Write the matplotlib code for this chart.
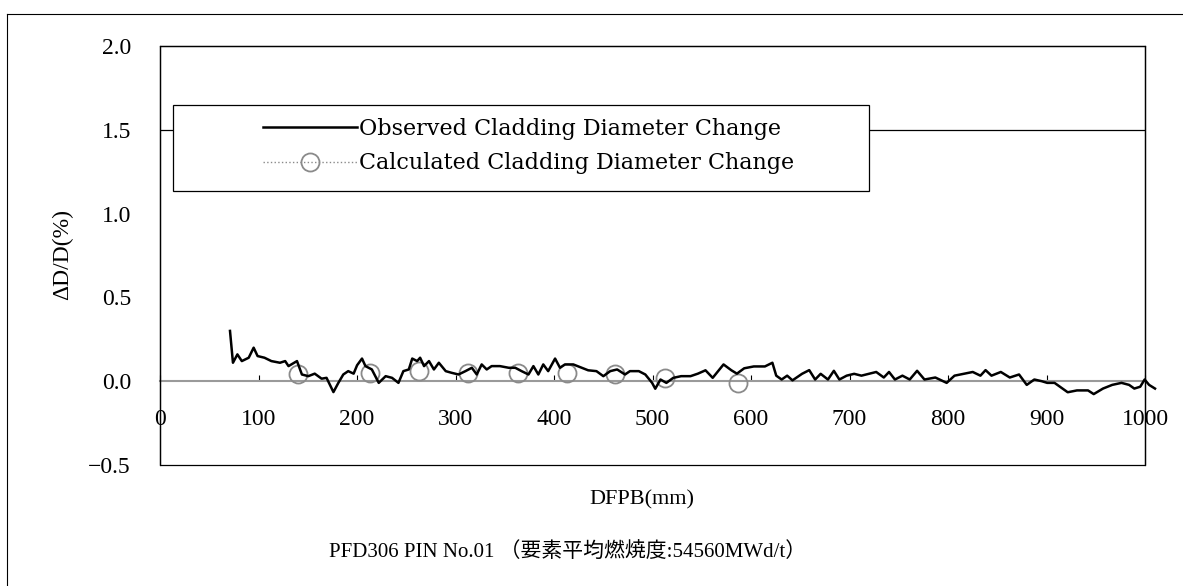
import numpy as np
import matplotlib
matplotlib.use("Agg")
import matplotlib.pyplot as plt
from matplotlib.lines import Line2D
from matplotlib.patches import Rectangle

plt.rcParams['font.family'] = ['Liberation Serif', 'Noto Sans CJK JP']

# observed cladding diameter change
obs_x = [71, 74, 78.5, 83, 90, 95, 99, 106, 113, 121.7, 127, 130.4, 139, 144, 150.5, 157,
         164, 169, 176, 181, 186, 191, 196.5, 200, 205, 208.5, 215, 222, 229, 235.5, 242,
         247, 252.5, 256, 261, 264, 268, 273, 278, 283, 290, 296, 303, 310, 316.5, 321.5,
         326.5, 331.6, 336.6, 345, 354, 360.6, 367, 374, 379, 384, 389, 394, 401, 406, 411,
         419.5, 428, 434.6, 443, 450, 457, 464, 472, 477, 486, 492.6, 499.5,
         502.7, 508, 514, 521, 529, 538.5, 546, 553.7, 561, 572, 580, 585.6, 593, 602.7,
         614, 621.6, 625.5, 631, 636.6, 642, 651.7, 659, 665, 670.6, 678, 684, 689.6, 697,
         704.6, 712, 719.6, 727, 734.7, 740, 746, 753.6, 761, 768.5, 776, 787, 798.5, 806.5,
         815.8, 825, 832.8, 838, 844, 853.5, 862.6, 872, 879.8, 887.5, 895, 900.6, 908,
         921.4, 930.8, 942, 947.8, 957.2, 966.6, 976, 983.7, 989, 995, 999.5, 1004, 1010]
obs_y = [0.30, 0.11, 0.16, 0.12, 0.14, 0.20, 0.15, 0.14, 0.12, 0.11, 0.12, 0.09, 0.12, 0.04,
         0.03, 0.045, 0.015, 0.02, -0.065, -0.01, 0.04, 0.06, 0.045, 0.095, 0.135, 0.09,
         0.07, -0.01, 0.03, 0.02, -0.01, 0.06, 0.07, 0.135, 0.12, 0.14, 0.09, 0.12, 0.07,
         0.11, 0.06, 0.05, 0.04, 0.06, 0.08, 0.04, 0.10, 0.07, 0.09, 0.09, 0.08, 0.08, 0.06,
         0.04, 0.09, 0.04, 0.10, 0.06, 0.135, 0.08, 0.10, 0.10, 0.08, 0.065, 0.06, 0.03,
         0.06, 0.07, 0.04, 0.06, 0.06, 0.04, -0.01,
         -0.045, 0.01, -0.01, 0.02, 0.03, 0.03, 0.045, 0.065, 0.02, 0.10, 0.065, 0.045,
         0.077, 0.088, 0.088, 0.11, 0.033, 0.01, 0.033, 0.005, 0.044, 0.066, 0.01, 0.044,
         0.01, 0.062, 0.01, 0.033, 0.044, 0.033, 0.044, 0.055, 0.022, 0.055, 0.01, 0.033,
         0.01, 0.062, 0.01, 0.022, -0.01, 0.033, 0.044, 0.055, 0.033, 0.066, 0.033, 0.055,
         0.022, 0.04, -0.022, 0.01, 0.0, -0.01, -0.01, -0.066, -0.055, -0.055, -0.077,
         -0.044, -0.022, -0.01, -0.022, -0.044, -0.033, 0.01, -0.022, -0.044]

# calculated cladding diameter change
calc_x = [140, 213, 263, 313, 363, 413, 462, 513, 587]
calc_y = [0.04, 0.05, 0.06, 0.05, 0.05, 0.05, 0.04, 0.02, -0.01]

x_ticks = [0, 100, 200, 300, 400, 500, 600, 700, 800, 900, 1000]
y_ticks = [-0.5, 0.0, 0.5, 1.0, 1.5, 2.0]
y_labels = ['\u22120.5', '0.0', '0.5', '1.0', '1.5', '2.0']
grid_y = 1.5

fig = plt.figure(figsize=(11.83, 5.86), dpi=100)
ax = fig.add_axes([0.1353, 0.2065, 0.8327, 0.715])

# outer frame of the scanned figure
fig.add_artist(Line2D([0.006, 0.006], [0.0, 0.976], color='black', lw=0.8))
fig.add_artist(Line2D([0.006, 1.0], [0.976, 0.976], color='black', lw=0.8))

ax.axhline(grid_y, color='black', lw=0.9, zorder=1)
ax.plot(obs_x, obs_y, color='black', lw=1.8, zorder=4, clip_on=False)
ax.plot(calc_x, calc_y, linestyle='none', marker='o', ms=13, mfc='none',
        mec='#8a8a8a', mew=1.3, zorder=3)

ax.set_xlim(0, 1000)
ax.set_ylim(-0.5, 2.0)
ax.set_xticks(x_ticks)
ax.set_yticks(y_ticks)
ax.set_yticklabels(y_labels)

ax.spines['bottom'].set_position(('data', 0))
ax.spines['bottom'].set_color('#9a9a9a')
ax.spines['bottom'].set_linewidth(1.5)
ax.spines['bottom'].set_zorder(2)
for s in ['left', 'right', 'top']:
    ax.spines[s].set_linewidth(0.9)
ax.add_patch(Rectangle((0, 0), 1, 1, transform=ax.transAxes, fill=False,
                       edgecolor='black', lw=0.9, zorder=5, clip_on=False))

ax.tick_params(axis='x', direction='in', length=4, width=0.8, pad=20,
               labelsize=17, color='black')
ax.tick_params(axis='y', length=0, pad=21, labelsize=17)

fig.text(0.053, 0.565, '\u0394D/D(%)', rotation=90, ha='center', va='center',
         fontsize=17)
fig.text(0.543, 0.147, 'DFPB(mm)', ha='center', va='center', fontsize=16)
fig.text(0.48, 0.058, 'PFD306 PIN No.01 \uff08要素平均燃焼度:54560MWd/t\uff09',
         ha='center', va='center', fontsize=15)

# legend box
ax.add_patch(Rectangle((0.0132, 0.654), 0.706, 0.205, transform=ax.transAxes,
                       facecolor='white', edgecolor='black', lw=0.9, zorder=6))
h1 = Line2D([], [], color='black', lw=1.8)
h2 = Line2D([], [], color='#8a8a8a', lw=1.0, linestyle=':', marker='o', ms=13,
            mfc='none', mec='#8a8a8a', mew=1.3)
leg = ax.legend([h1, h2], ['Observed Cladding Diameter Change',
                           'Calculated Cladding Diameter Change'],
                loc='upper left', bbox_to_anchor=(0.105, 0.828), frameon=False,
                prop={'family': 'DejaVu Serif', 'size': 16},
                handlelength=4.2, handletextpad=0.1, borderaxespad=0,
                borderpad=0, labelspacing=0.55, numpoints=1)
leg.set_zorder(7)

fig.savefig('out.png', dpi=100, facecolor='white')
